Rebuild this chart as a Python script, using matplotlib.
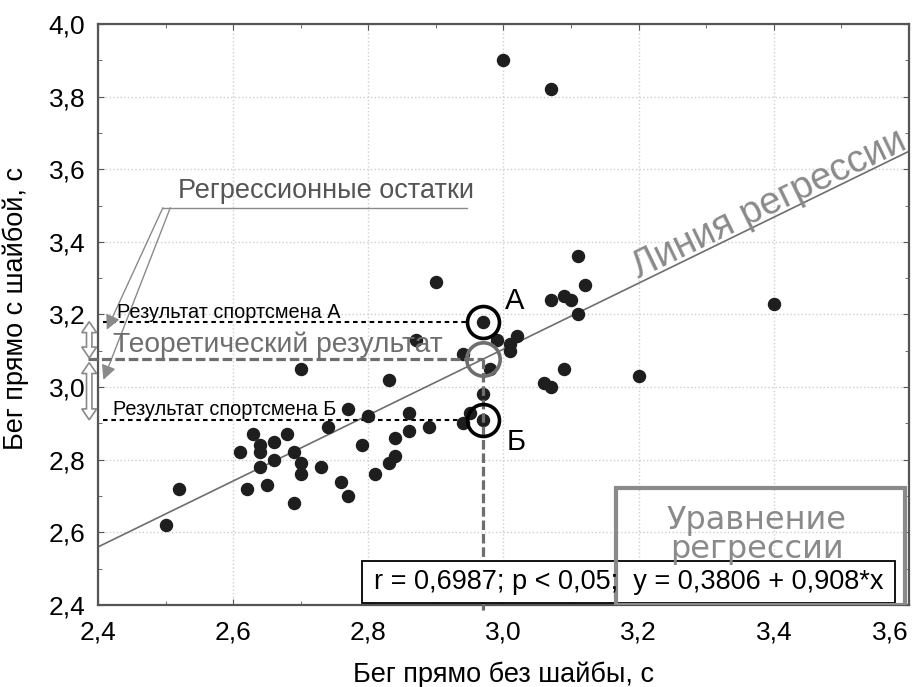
import matplotlib.pyplot as plt
import numpy as np
from matplotlib.patches import Rectangle, Polygon
from matplotlib.ticker import MultipleLocator, FuncFormatter

plt.rcParams['font.family'] = ['Liberation Sans', 'DejaVu Sans']

# данные
x_no_puck = [3.00, 3.07, 3.11, 2.90, 3.12, 3.07, 3.09, 3.10, 3.11, 3.40,
             2.97, 3.02, 2.99, 3.01, 3.01, 2.87, 2.94, 2.98, 3.09, 3.06,
             3.07, 3.20, 2.70, 2.83, 2.97, 2.97, 2.95, 2.94, 2.86, 2.89,
             2.86, 2.84, 2.77, 2.80, 2.74, 2.79, 2.63, 2.68, 2.64, 2.66,
             2.61, 2.64, 2.69, 2.66, 2.64, 2.70, 2.70, 2.73, 2.84, 2.83,
             2.81, 2.76, 2.77, 2.62, 2.65, 2.69, 2.52, 2.50]
y_puck = [3.90, 3.82, 3.36, 3.29, 3.28, 3.24, 3.25, 3.24, 3.20, 3.23,
          3.18, 3.14, 3.13, 3.12, 3.10, 3.13, 3.09, 3.05, 3.05, 3.01,
          3.00, 3.03, 3.05, 3.02, 2.98, 2.91, 2.93, 2.90, 2.93, 2.89,
          2.88, 2.86, 2.94, 2.92, 2.89, 2.84, 2.87, 2.87, 2.84, 2.85,
          2.82, 2.82, 2.82, 2.80, 2.78, 2.79, 2.76, 2.78, 2.81, 2.79,
          2.76, 2.74, 2.70, 2.72, 2.73, 2.68, 2.72, 2.62]

intercept = 0.3806
slope = 0.908
r_value = "0,6987"

athlete_x = 2.97
athlete_a = 3.18
athlete_b = 2.91
theor = intercept + slope * athlete_x

gray = '#6e6e6e'
lgray = '#8a8a8a'

fig = plt.figure(figsize=(9.15, 6.87), dpi=100)
ax = fig.add_axes([0.1071, 0.1194, 0.8863, 0.8457])

ax.set_xlim(2.4, 3.6)
ax.set_ylim(2.4, 4.0)
ax.xaxis.set_major_locator(MultipleLocator(0.2))
ax.yaxis.set_major_locator(MultipleLocator(0.2))
ax.xaxis.set_minor_locator(MultipleLocator(0.1))
ax.yaxis.set_minor_locator(MultipleLocator(0.1))
comma = FuncFormatter(lambda v, p: f"{v:.1f}".replace('.', ','))
ax.xaxis.set_major_formatter(comma)
ax.yaxis.set_major_formatter(comma)
ax.tick_params(which='both', direction='in', top=True, right=True, color='#555')
ax.tick_params(which='major', length=4, labelsize=19)
ax.tick_params(which='minor', length=3)
ax.tick_params(axis='x', pad=11)
ax.tick_params(axis='y', pad=9)
for s in ax.spines.values():
    s.set_color('#555')
    s.set_linewidth(1.6)
ax.grid(True, which='major', color='#cfcfcf', linestyle=':', linewidth=1)

ax.set_xlabel("Бег прямо без шайбы, с", fontsize=19.5)
ax.set_ylabel("Бег прямо с шайбой, с", fontsize=19.5)
ax.xaxis.set_label_coords(0.5, -0.097)
ax.yaxis.set_label_coords(-0.085, 0.51)

# линия регрессии
xl = np.array([2.4, 3.6])
ax.plot(xl, intercept + slope * xl, color=gray, lw=1.2, zorder=2)
ax.text(3.2, intercept + slope * 3.2 + 0.012, "Линия регрессии", rotation=25.8,
        rotation_mode='anchor', ha='left', va='baseline', fontsize=27.5, color=lgray)

# точки
ax.scatter(x_no_puck, y_puck, s=75, color='#1e1e1e', zorder=3)

# пунктирные линии
ax.plot([2.407, athlete_x - 0.025], [athlete_a, athlete_a], color='black', lw=1.5,
        linestyle=(0, (2.2, 1.8)), zorder=2)
ax.plot([2.407, athlete_x - 0.025], [athlete_b, athlete_b], color='black', lw=1.5,
        linestyle=(0, (2.2, 1.8)), zorder=2)
ax.plot([2.385, athlete_x], [theor, theor], color=gray, lw=2.3,
        linestyle=(0, (3, 1.2)), zorder=4, clip_on=False)
ax.plot([athlete_x, athlete_x], [theor, 2.38], color=gray, lw=2.3,
        linestyle=(0, (3, 1.2)), zorder=4, clip_on=False)

# кружки
ax.plot([athlete_x], [athlete_a], marker='o', ms=23, mfc='none', mec='black', mew=2.6, zorder=5)
ax.plot([athlete_x], [athlete_b], marker='o', ms=23, mfc='none', mec='black', mew=2.6, zorder=5)
ax.plot([athlete_x], [theor], marker='o', ms=24, mfc='none', mec=gray, mew=2.6, zorder=5)

ax.text(3.017, 3.236, "А", fontsize=21, ha='center', va='center')
ax.text(3.019, 2.85, "Б", fontsize=21, ha='center', va='center')

ax.text(2.428, 3.19, "Результат спортсмена А", fontsize=14.3, va='baseline', zorder=6)
ax.text(2.422, 2.923, "Результат спортсмена Б", fontsize=14.3, va='baseline', zorder=6)
ax.text(2.422, 3.097, "Теоретический результат", fontsize=20.3, color=gray, va='baseline', zorder=6)


# полые двойные стрелки
def double_arrow(x, y0, y1):
    w, hw, hl = 0.004, 0.011, 0.03
    ys, ye = min(y0, y1), max(y0, y1)
    pts = [(x, ye), (x + hw, ye - hl), (x + w, ye - hl), (x + w, ys + hl),
           (x + hw, ys + hl), (x, ys), (x - hw, ys + hl), (x - w, ys + hl),
           (x - w, ye - hl), (x - hw, ye - hl)]
    ax.add_patch(Polygon(pts, closed=True, facecolor='white', edgecolor=lgray,
                         lw=1.2, clip_on=False, zorder=6))


double_arrow(2.387, athlete_a, theor + 0.003)
double_arrow(2.387, theor - 0.01, athlete_b)

# регрессионные остатки
ax.text(2.518, 3.522, "Регрессионные остатки", fontsize=19.5, color='#555', va='baseline')
ax.plot([2.496, 2.946], [3.494, 3.494], color=lgray, lw=1)
ax.annotate('', xy=(2.413, 3.158), xytext=(2.496, 3.494),
            arrowprops=dict(arrowstyle='-|>', color=lgray, lw=1, mutation_scale=22,
                            shrinkA=0, shrinkB=0))
ax.annotate('', xy=(2.408, 3.02), xytext=(2.507, 3.494),
            arrowprops=dict(arrowstyle='-|>', color=lgray, lw=1, mutation_scale=22,
                            shrinkA=0, shrinkB=0))

# уравнение
ax.add_patch(Rectangle((0.3255, 0.003), 0.657, 0.073, transform=ax.transAxes,
                       facecolor='white', edgecolor='black', lw=1.3, zorder=7))
ax.add_patch(Rectangle((0.639, 0.0), 0.356, 0.201, transform=ax.transAxes,
                       facecolor='none', edgecolor=lgray, lw=3, zorder=8))
ax.text(0.8126, 0.145, "Уравнение", transform=ax.transAxes, fontsize=23,
        family='DejaVu Sans', color=lgray, ha='center', va='center', zorder=8)
ax.text(0.8126, 0.095, "регрессии", transform=ax.transAxes, fontsize=23,
        family='DejaVu Sans', color=lgray, ha='center', va='center', zorder=8)
ax.text(0.655, 0.039, f"r = {r_value}; p < 0,05;  y = 0,3806 + 0,908*x",
        transform=ax.transAxes, fontsize=19.5, ha='center', va='center', zorder=9)

# последняя подпись оси X не выходит за край
locs = ax.xaxis.get_majorticklocs()
for loc, tick in zip(locs, ax.xaxis.get_major_ticks(len(locs))):
    if abs(loc - 3.6) < 1e-6:
        tick.label1.set_horizontalalignment('right')

fig.savefig("out.png", dpi=100)
